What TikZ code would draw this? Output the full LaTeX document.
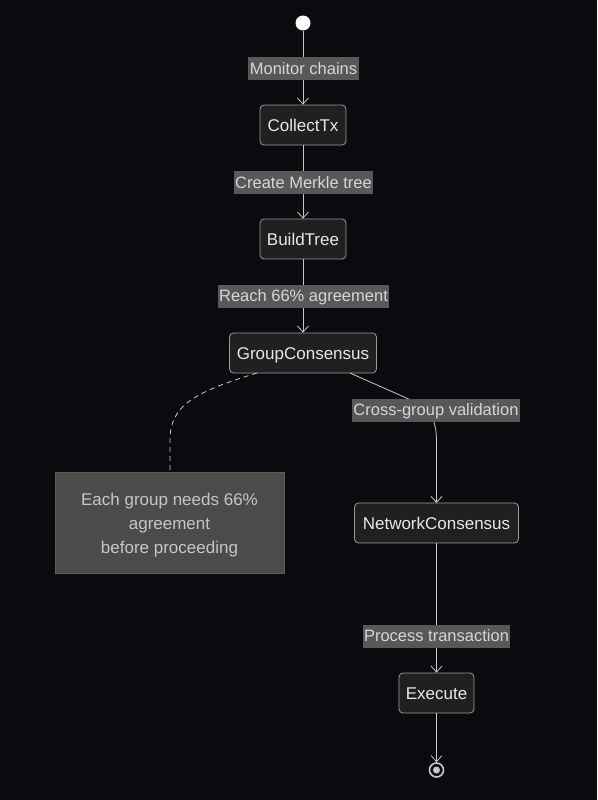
\documentclass[tikz,border=0pt]{standalone}
\usepackage{fontspec}
\setmainfont{Liberation Sans}
\usetikzlibrary{arrows.meta}
\definecolor{bgc}{HTML}{0B0A0F}
\definecolor{nodefill}{HTML}{1F2020}
\definecolor{nodeborder}{HTML}{9A9A9A}
\definecolor{nodetext}{HTML}{E8E8E8}
\definecolor{lblfill}{HTML}{585858}
\definecolor{lbltext}{HTML}{D4D6DA}
\definecolor{linec}{HTML}{C8C8C8}
\definecolor{notefill}{HTML}{4A4C4A}
\definecolor{noteborder}{HTML}{5A5C5A}
\definecolor{notetext}{HTML}{C6C6C6}
\tikzset{
  statebox/.style={draw=nodeborder, fill=nodefill, rounded corners=4pt, line width=0.8pt,
    text=nodetext, font=\fontsize{17}{20}\selectfont, minimum height=40pt, inner sep=0pt,
    text height=12.2pt, text depth=0pt},
  edgelbl/.style={fill=lblfill, text=lbltext, font=\fontsize{16.5}{19}\selectfont,
    minimum height=23pt, inner xsep=1.5pt, inner ysep=0pt, text height=11.8pt, text depth=0pt},
  conn/.style={draw=linec, line width=0.8pt},
  arr/.style={conn, -{Straight Barb[length=6pt, width=11pt, line width=0.8pt]}},
  notebox/.style={draw=noteborder, fill=notefill, text=notetext, line width=0.8pt,
    font=\fontsize{17}{24}\selectfont, align=center, minimum width=229pt, minimum height=101pt, inner sep=0pt}
}
\begin{document}
\begin{tikzpicture}[x=1pt, y=1pt]
\fill[bgc] (0,0) rectangle (597,-800);
\useasboundingbox (0,0) rectangle (597,-800);

% start
\node[circle, fill=white, minimum size=15pt, inner sep=0pt] (start) at (303,-23) {};

% states
\node[statebox, minimum width=86pt] (collect) at (303,-125) {CollectTx};
\node[statebox, minimum width=86pt] (build) at (303,-239) {BuildTree};
\node[statebox, minimum width=147pt] (group) at (303,-353) {GroupConsensus};
\node[statebox, minimum width=164pt] (network) at (436.5,-523) {NetworkConsensus};
\node[statebox, minimum width=75pt] (exec) at (436.5,-693) {Execute};

% end
\node[circle, draw=linec, line width=1.6pt, minimum size=14pt, inner sep=0pt] (end) at (436.5,-770) {};
\node[circle, fill=linec, minimum size=7pt, inner sep=0pt] (enddot) at (436.5,-770) {};

% note
\node[notebox] (note) at (169.5,-522.5) {\rule{0pt}{18pt}Each group needs 66\%\\agreement\\before proceeding};

% edges
\draw[arr] (start) -- (collect);
\draw[arr] (collect) -- (build);
\draw[arr] (build) -- (group);
\draw[arr] (network) -- (exec);
\draw[arr] (exec) -- (end);

\coordinate (g1) at (350,-373);
\coordinate (nc) at (436.5,-503);
\draw[arr] (g1) -- (420,-404) .. controls (436.5,-418) and (436.5,-428) .. (436.5,-448) -- (nc);

\coordinate (g2) at (257,-373);
\coordinate (nt) at (170,-471);
\draw[conn, dashed, dash pattern=on 5pt off 4pt] (g2) .. controls (195,-392) and (170,-405) .. (170,-440) -- (nt);

% edge labels
\node[edgelbl] (l1) at (303.5,-68.5) {Monitor chains};
\node[edgelbl] (l2) at (303.5,-182.5) {Create Merkle tree};
\node[edgelbl] (l3) at (303.5,-296) {Reach 66\% agreement};
\node[edgelbl] (l4) at (436,-410) {Cross-group validation};
\node[edgelbl] (l5) at (436.5,-636) {Process transaction};
\end{tikzpicture}
\end{document}
